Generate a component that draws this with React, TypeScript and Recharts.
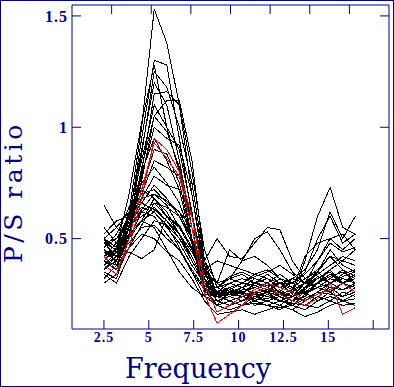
import { Line, LineChart, XAxis, YAxis } from 'recharts'

const NAVY = '#00008b'

// frequency samples (Hz)
const freq = [2.5, 3.2, 3.9, 4.6, 5.3, 6.0, 6.7, 7.4, 8.1, 8.8, 9.5, 10.2, 10.9, 11.6, 12.3, 13.0, 13.7, 14.4, 15.1, 15.8, 16.5]

const xTicks = [2.5, 5, 7.5, 10, 12.5, 15, 17.5]
const yTicks = [0.5, 1, 1.5]

// stations with a strong peak near 5 Hz
const h1 = [0.45, 0.4, 0.62, 1.0, 1.53, 1.38, 1.1, 0.7, 0.35, 0.22, 0.24, 0.22, 0.26, 0.25, 0.22, 0.2, 0.25, 0.28, 0.3, 0.27, 0.3]
const h2 = [0.5, 0.44, 0.58, 0.95, 1.3, 1.28, 0.95, 0.6, 0.3, 0.25, 0.28, 0.3, 0.29, 0.27, 0.25, 0.27, 0.3, 0.32, 0.35, 0.3, 0.33]
const h3 = [0.4, 0.36, 0.55, 0.88, 1.25, 1.18, 1.0, 0.75, 0.4, 0.25, 0.22, 0.24, 0.22, 0.2, 0.18, 0.22, 0.28, 0.35, 0.45, 0.38, 0.35]
const h4 = [0.46, 0.5, 0.6, 0.9, 1.2, 1.1, 0.85, 0.55, 0.28, 0.2, 0.26, 0.25, 0.2, 0.22, 0.24, 0.2, 0.23, 0.26, 0.25, 0.24, 0.28]
const h5 = [0.35, 0.32, 0.5, 0.8, 1.15, 1.16, 1.1, 0.8, 0.45, 0.28, 0.3, 0.28, 0.32, 0.3, 0.28, 0.3, 0.35, 0.5, 0.6, 0.48, 0.52]
const h6 = [0.48, 0.42, 0.55, 0.76, 1.05, 1.12, 1.12, 0.85, 0.4, 0.3, 0.32, 0.3, 0.28, 0.26, 0.3, 0.32, 0.3, 0.34, 0.38, 0.42, 0.4]
const h7 = [0.42, 0.45, 0.62, 0.85, 1.1, 1.0, 0.9, 0.62, 0.32, 0.22, 0.2, 0.22, 0.25, 0.24, 0.22, 0.21, 0.2, 0.24, 0.22, 0.26, 0.24]
const h8 = [0.5, 0.38, 0.52, 0.82, 1.05, 0.98, 0.82, 0.55, 0.3, 0.26, 0.3, 0.32, 0.3, 0.34, 0.3, 0.27, 0.26, 0.28, 0.3, 0.32, 0.3]
const h9 = [0.38, 0.42, 0.58, 0.78, 1.0, 0.95, 0.92, 0.7, 0.38, 0.24, 0.25, 0.26, 0.22, 0.25, 0.26, 0.22, 0.24, 0.3, 0.36, 0.3, 0.28]
const h10 = [0.44, 0.4, 0.5, 0.72, 0.9, 0.88, 0.75, 0.5, 0.27, 0.2, 0.22, 0.2, 0.24, 0.22, 0.2, 0.18, 0.22, 0.25, 0.28, 0.24, 0.26]
const h11 = [0.55, 0.48, 0.6, 0.7, 0.85, 0.82, 0.78, 0.6, 0.36, 0.3, 0.26, 0.28, 0.3, 0.28, 0.32, 0.3, 0.28, 0.3, 0.33, 0.35, 0.32]
const h12 = [0.4, 0.46, 0.7, 1.02, 1.28, 1.0, 0.8, 0.5, 0.26, 0.24, 0.27, 0.25, 0.23, 0.26, 0.27, 0.24, 0.22, 0.26, 0.3, 0.27, 0.29]

// intermediate peaks
const m1 = [0.44, 0.4, 0.55, 0.75, 0.82, 0.75, 0.66, 0.5, 0.3, 0.22, 0.24, 0.26, 0.28, 0.26, 0.24, 0.26, 0.3, 0.28, 0.26, 0.3, 0.28]
const m2 = [0.36, 0.42, 0.6, 0.8, 0.95, 0.85, 0.72, 0.48, 0.25, 0.24, 0.22, 0.24, 0.23, 0.22, 0.2, 0.24, 0.26, 0.22, 0.24, 0.22, 0.23]
const m3 = [0.48, 0.45, 0.58, 0.68, 0.78, 0.74, 0.72, 0.6, 0.38, 0.25, 0.27, 0.3, 0.34, 0.36, 0.32, 0.28, 0.25, 0.3, 0.34, 0.32, 0.3]

// weak peaks
const l1 = [0.5, 0.55, 0.62, 0.7, 0.72, 0.66, 0.62, 0.55, 0.4, 0.25, 0.25, 0.28, 0.25, 0.27, 0.3, 0.28, 0.32, 0.35, 0.3, 0.33, 0.35]
const l2 = [0.42, 0.48, 0.58, 0.66, 0.74, 0.68, 0.6, 0.48, 0.35, 0.26, 0.28, 0.25, 0.3, 0.32, 0.28, 0.26, 0.3, 0.28, 0.32, 0.36, 0.3]
const l3 = [0.65, 0.55, 0.5, 0.58, 0.68, 0.62, 0.52, 0.4, 0.3, 0.28, 0.33, 0.35, 0.32, 0.3, 0.34, 0.3, 0.28, 0.33, 0.3, 0.34, 0.36]
const l4 = [0.36, 0.4, 0.56, 0.6, 0.64, 0.58, 0.5, 0.42, 0.3, 0.28, 0.25, 0.24, 0.26, 0.28, 0.24, 0.22, 0.26, 0.3, 0.28, 0.27, 0.29]
const l5 = [0.45, 0.42, 0.44, 0.41, 0.45, 0.6, 0.55, 0.45, 0.34, 0.25, 0.27, 0.26, 0.24, 0.23, 0.25, 0.24, 0.27, 0.32, 0.36, 0.4, 0.38]
const l6 = [0.32, 0.38, 0.5, 0.62, 0.6, 0.52, 0.45, 0.36, 0.28, 0.24, 0.28, 0.3, 0.33, 0.35, 0.38, 0.34, 0.3, 0.4, 0.5, 0.45, 0.5]
const l7 = [0.48, 0.5, 0.6, 0.68, 0.7, 0.65, 0.55, 0.45, 0.4, 0.5, 0.42, 0.41, 0.48, 0.55, 0.54, 0.4, 0.32, 0.36, 0.42, 0.4, 0.45]
const l8 = [0.4, 0.45, 0.55, 0.62, 0.66, 0.6, 0.52, 0.42, 0.3, 0.28, 0.32, 0.4, 0.5, 0.53, 0.45, 0.35, 0.3, 0.28, 0.32, 0.3, 0.34]
const l9 = [0.44, 0.4, 0.52, 0.58, 0.62, 0.56, 0.46, 0.35, 0.27, 0.24, 0.26, 0.24, 0.25, 0.27, 0.3, 0.25, 0.4, 0.6, 0.73, 0.55, 0.52]
const l10 = [0.46, 0.5, 0.58, 0.64, 0.62, 0.55, 0.48, 0.38, 0.3, 0.28, 0.3, 0.32, 0.3, 0.28, 0.26, 0.32, 0.36, 0.45, 0.62, 0.5, 0.6]
const l11 = [0.38, 0.44, 0.48, 0.55, 0.56, 0.5, 0.45, 0.35, 0.24, 0.2, 0.18, 0.2, 0.22, 0.2, 0.19, 0.2, 0.18, 0.22, 0.26, 0.22, 0.2]
const l12 = [0.42, 0.48, 0.52, 0.58, 0.55, 0.45, 0.35, 0.28, 0.24, 0.22, 0.25, 0.27, 0.28, 0.3, 0.26, 0.24, 0.3, 0.35, 0.42, 0.36, 0.33]
const l13 = [0.3, 0.34, 0.46, 0.52, 0.5, 0.44, 0.4, 0.32, 0.22, 0.16, 0.17, 0.18, 0.16, 0.18, 0.2, 0.18, 0.15, 0.17, 0.2, 0.22, 0.25]
const l14 = [0.4, 0.38, 0.46, 0.56, 0.66, 0.64, 0.6, 0.5, 0.36, 0.4, 0.38, 0.36, 0.34, 0.32, 0.3, 0.3, 0.34, 0.4, 0.48, 0.44, 0.46]
const l15 = [0.5, 0.46, 0.55, 0.63, 0.7, 0.67, 0.62, 0.5, 0.35, 0.3, 0.45, 0.4, 0.42, 0.38, 0.32, 0.3, 0.28, 0.32, 0.35, 0.3, 0.32]
const l16 = [0.46, 0.52, 0.64, 0.72, 0.68, 0.6, 0.56, 0.46, 0.32, 0.26, 0.24, 0.22, 0.24, 0.26, 0.22, 0.24, 0.28, 0.3, 0.34, 0.3, 0.28]
const l17 = [0.34, 0.3, 0.42, 0.5, 0.58, 0.56, 0.5, 0.4, 0.3, 0.24, 0.22, 0.2, 0.21, 0.2, 0.22, 0.21, 0.2, 0.19, 0.22, 0.2, 0.21]
const l18 = [0.52, 0.58, 0.6, 0.66, 0.63, 0.58, 0.52, 0.44, 0.34, 0.3, 0.32, 0.34, 0.3, 0.29, 0.3, 0.27, 0.42, 0.48, 0.5, 0.52, 0.45]

// highlighted stations
const red1 = [0.38, 0.34, 0.5, 0.72, 0.93, 0.86, 0.78, 0.55, 0.25, 0.12, 0.16, 0.2, 0.26, 0.28, 0.25, 0.22, 0.2, 0.23, 0.3, 0.16, 0.19]
const red2 = [0.42, 0.36, 0.46, 0.68, 0.95, 0.9, 0.8, 0.6, 0.3, 0.17, 0.2, 0.24, 0.27, 0.3, 0.28, 0.26, 0.22, 0.25, 0.27, 0.3, 0.26]

const blackSeries = [
  h1, h2, h3, h4, h5, h6, h7, h8, h9, h10, h11, h12, m1, m2, m3,
  l1, l2, l3, l4, l5, l6, l7, l8, l9, l10, l11, l12, l13, l14, l15, l16, l17, l18,
]
const redSeries = [red1, red2]

const rows = freq.map((f, i) => {
  const row: Record<string, number> = { f }
  blackSeries.forEach((s, k) => (row[`b${k}`] = s[i]))
  redSeries.forEach((s, k) => (row[`r${k}`] = s[i]))
  return row
})

const X_DOMAIN: [number, number] = [0.72, 18.38]
const Y_DOMAIN: [number, number] = [0.094, 1.549]

const tickFont = { fill: NAVY, fontFamily: 'Liberation Serif', fontWeight: 'bold', letterSpacing: 1 }

export default function App() {
  return (
    <div style={{ position: 'fixed', left: 0, top: 0, width: 394, height: 387, background: '#fff' }}>
      <LineChart width={394} height={387} data={rows} margin={{ top: 4, right: 4, bottom: 0, left: 0 }}>
        <XAxis
          dataKey="f"
          type="number"
          domain={X_DOMAIN}
          ticks={xTicks}
          allowDataOverflow
          height={58}
          stroke={NAVY}
          tickSize={-9}
          tickMargin={12}
          tick={{ ...tickFont, fontSize: 14 }}
          tickFormatter={(v: number) => (v === 17.5 ? '' : String(v))}
          interval={0}
        />
        <XAxis
          xAxisId="top"
          orientation="top"
          type="number"
          domain={X_DOMAIN}
          ticks={xTicks}
          allowDataOverflow
          height={1}
          stroke={NAVY}
          tickSize={-9}
          tickFormatter={() => ''}
          interval={0}
        />
        <YAxis
          type="number"
          domain={Y_DOMAIN}
          ticks={yTicks}
          allowDataOverflow
          width={72}
          stroke={NAVY}
          tickSize={-9}
          tickMargin={13}
          tick={{ ...tickFont, fontSize: 16 }}
          interval={0}
        />
        <YAxis
          yAxisId="right"
          orientation="right"
          type="number"
          domain={Y_DOMAIN}
          ticks={yTicks}
          allowDataOverflow
          width={1}
          stroke={NAVY}
          tickSize={-9}
          tickFormatter={() => ''}
          interval={0}
        />
        {blackSeries.map((_, k) => (
          <Line
            key={`b${k}`}
            dataKey={`b${k}`}
            stroke="#000"
            strokeWidth={1}
            dot={false}
            type="linear"
            shapeRendering="crispEdges"
            isAnimationActive={false}
          />
        ))}
        {redSeries.map((_, k) => (
          <Line
            key={`r${k}`}
            dataKey={`r${k}`}
            stroke="#ff0000"
            strokeWidth={1}
            dot={false}
            type="linear"
            shapeRendering="crispEdges"
            isAnimationActive={false}
          />
        ))}
      </LineChart>
      <svg width={394} height={387} style={{ position: 'absolute', left: 0, top: 0, pointerEvents: 'none' }}>
        <rect x={0.5} y={0.5} width={393} height={386} fill="none" stroke={NAVY} strokeWidth={1} />
        <text x={125} y={378} fill={NAVY} fontFamily="DejaVu Serif" fontSize={27}>
          Frequency
        </text>
        <text
          transform="translate(22,263) rotate(-90)"
          fill={NAVY}
          fontFamily="DejaVu Serif"
          fontSize={25}
          letterSpacing={3.5}
        >
          P/S ratio
        </text>
      </svg>
    </div>
  )
}
